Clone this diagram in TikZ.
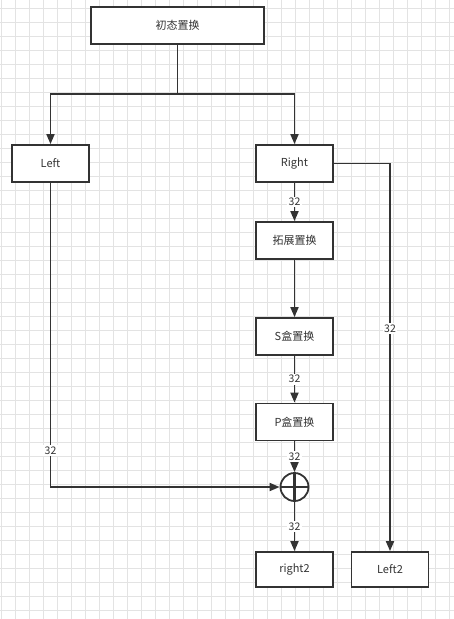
\documentclass[tikz,border=0pt]{standalone}
\usepackage{fontspec}
\setmainfont{Noto Sans CJK SC}
\usepackage{xcolor}
\usepackage{tikz}
\usetikzlibrary{arrows.meta,quotes}

\definecolor{linegray}{HTML}{333333}
\definecolor{textgray}{HTML}{333333}
\definecolor{gridgray}{HTML}{E3E3E3}

\begin{document}
\begin{tikzpicture}[x=1pt,y=-1pt,
        box/.style = {draw=linegray, line width=1.8pt, fill=white, inner sep=0pt,
                      minimum width=77pt, minimum height=37pt,
                      font=\fontsize{11}{13}\selectfont, text=textgray},
        xorc/.style = {circle, draw=linegray, line width=1.8pt, fill=white, inner sep=0pt,
                      minimum size=28pt,
                      path picture={\draw[linegray, line width=2.4pt]
                          (path picture bounding box.north) -- (path picture bounding box.south)
                          (path picture bounding box.west) -- (path picture bounding box.east);}},
        flow/.style = {draw=linegray, line width=1.8pt, -{Triangle[length=10pt,width=8pt]}},
        every edge/.style = {flow},
        every edge quotes/.style = {fill=white, text=textgray, inner sep=1.5pt,
                      font=\fontsize{10.5}{11}\selectfont}
        ]
    \useasboundingbox (0,0) rectangle (454,619);
    \fill[white] (0,0) rectangle (454,619);

    % grid
    \foreach \gx in {1,15,...,453} \draw[gridgray, line width=0.9pt] (\gx,0) -- (\gx,619);
    \foreach \gy in {8,22,...,618} \draw[gridgray, line width=0.9pt] (0,\gy) -- (454,\gy);

    \node[box, minimum width=173pt] (init) at (177.5,25.5) {初态置换};
    \node[box] (left)   at (50.5,163.5)  {Left};
    \node[box] (right)  at (294.5,163.5) {Right};
    \node[box] (expand) at (294.5,240.5) {拓展置换};
    \node[box] (sbox)   at (294.5,336.5) {S盒置换};
    \node[box] (pbox)   at (294.5,422)   {P盒置换};
    \node[xorc] (xor)   at (294.5,487)   {};
    \node[box, minimum height=35pt] (right2) at (294.5,569.5) {right2};
    \node[box, minimum height=35pt] (left2)  at (390,569.5)   {Left2};

    \coordinate (split) at (177.5,94);

    \draw[linegray, line width=1.8pt] (init.south) -- (split);
    \draw[flow] (split) -| (left.north);
    \draw[flow] (split) -| (right.north);

    \draw[flow] (left.south) |- node[pos=0.44, fill=white, text=textgray, inner sep=1.5pt,
        font=\fontsize{10.5}{11}\selectfont] {32} (xor.west); %label
    \draw[flow] (right.east) -| node[pos=0.713, fill=white, text=textgray, inner sep=1.5pt,
        font=\fontsize{10.5}{11}\selectfont] {32} (left2.north); %label

    \draw   (right)  edge ["32"] (expand)
            (expand) edge        (sbox)
            (sbox)   edge ["32"] (pbox)
            (pbox)   edge ["32"] (xor)
            (xor)    edge ["32"] (right2);
\end{tikzpicture}
\end{document}
